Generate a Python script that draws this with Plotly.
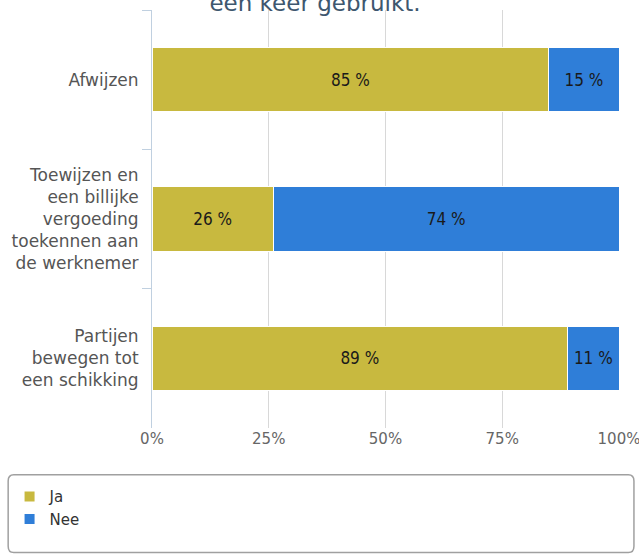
import plotly.graph_objects as go

categories = ["Afwijzen",
              "Toewijzen en<br>een billijke<br>vergoeding<br>toekennen aan<br>de werknemer",
              "Partijen<br>bewegen tot<br>een schikking"]
ja_values = [85, 26, 89]
nee_values = [15, 74, 11]
series_names = ["Ja", "Nee"]
series_colors = ["#C8B93F", "#2F7ED8"]
x_ticks = [0, 25, 50, 75, 100]
x_tick_labels = ["0%", "25%", "50%", "75%", "100%"]
title_text = "een keer gebruikt."

FONT = "DejaVu Sans, sans-serif"
NARROW = "Liberation Sans Narrow, DejaVu Sans Condensed, Arial Narrow, DejaVu Sans, sans-serif"

fig = go.Figure()
for name, vals, col in zip(series_names, [ja_values, nee_values], series_colors):
    fig.add_trace(go.Bar(
        y=categories, x=vals, name=name, orientation="h",
        legendgroup=name,
        marker=dict(color=col, line=dict(color="white", width=1)),
        text=[f"{v} %" for v in vals], textposition="inside",
        insidetextanchor="middle",
        textfont=dict(family=NARROW, size=17, color="#1a1a1a"),
        hoverinfo="skip",
    ))

fig.update_layout(
    width=639, height=554,
    barmode="stack", bargap=0.54,
    margin=dict(l=152, r=20, t=10, b=126),
    paper_bgcolor="white", plot_bgcolor="white",
    font=dict(family=FONT, size=16, color="#555555"),
    title=dict(text=title_text, x=0.493, xanchor="center",
               y=0.995, yref="container", yanchor="middle",
               font=dict(family=FONT, size=23, color="#3E576F")),
    showlegend=True,
    legend=dict(orientation="v", x=-0.305, xanchor="left", y=-0.125, yanchor="top",
                font=dict(family=FONT, size=15, color="#333333"),
                bgcolor="rgba(0,0,0,0)", tracegroupgap=7, itemsizing="constant",
                traceorder="normal"),
    uniformtext=dict(minsize=8, mode="show"),
)

fig.update_xaxes(range=[0, 100], tickvals=x_ticks, ticktext=x_tick_labels,
                 showgrid=True, gridcolor="#D8D8D8", gridwidth=1,
                 zeroline=False, showline=False, ticks="",
                 ticklabeloverflow="allow", automargin=False,
                 tickfont=dict(family=FONT, size=15, color="#666666"),
                 fixedrange=True)
fig.update_yaxes(autorange="reversed", showline=True, linecolor="#C0D0E0", linewidth=1,
                 ticks="outside", tickson="boundaries", ticklen=9, tickcolor="#C0D0E0",
                 ticklabelstandoff=9, automargin=False,
                 tickfont=dict(family=FONT, size=17, color="#555555"),
                 showgrid=False, fixedrange=True)

# rounded legend box
x0, x1 = -0.308, 1.032
y0, y1 = -0.298, -0.112
rx = 0.012
ry = 0.015
path = (f"M {x0+rx},{y1} L {x1-rx},{y1} Q {x1},{y1} {x1},{y1-ry} "
        f"L {x1},{y0+ry} Q {x1},{y0} {x1-rx},{y0} L {x0+rx},{y0} "
        f"Q {x0},{y0} {x0},{y0+ry} L {x0},{y1-ry} Q {x0},{y1} {x0+rx},{y1} Z")
fig.add_shape(type="path", path=path, xref="paper", yref="paper",
              line=dict(color="#A0A0A0", width=1.5), fillcolor="rgba(0,0,0,0)")

fig.write_html("out.html", config={"displayModeBar": False},
               post_script="document.body.style.margin='0';document.body.style.overflow='hidden';")
